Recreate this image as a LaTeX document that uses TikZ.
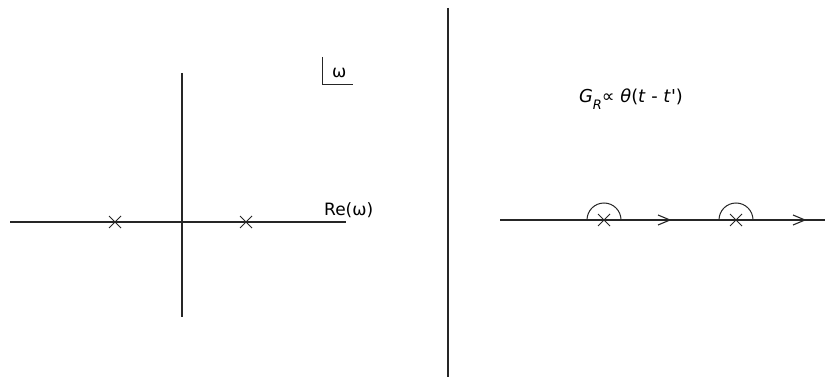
\documentclass[tikz,border=0pt]{standalone}
\usepackage{fontspec}
\setmainfont{DejaVu Sans}[Ligatures=TeXOff]
\begin{document}
\begin{tikzpicture}[x=1pt,y=-1pt,
  axis/.style={line width=1.2pt,draw=black!85},
  cross/.style={line width=0.9pt,draw=black!85},
  lbl/.style={font=\fontsize{17}{20}\selectfont,inner sep=0pt}]
\useasboundingbox (0,0) rectangle (825,377);
% left panel
\coordinate (hl) at (10,222); \coordinate (hr) at (346,222);
\coordinate (vt) at (182,73); \coordinate (vb) at (182,317);
\draw[axis] (hl) -- (hr);
\draw[axis] (vt) -- (vb);
\foreach \x in {115,246}{
  \draw[cross] (\x-6,216) -- (\x+6,228) (\x-6,228) -- (\x+6,216);}
\node[lbl,anchor=base west] (re) at (324,215) {Re(ω)};
\coordinate (ct) at (322,57); \coordinate (cc) at (322,85); \coordinate (cr) at (353,85);
\draw[line width=1pt,draw=black!85] (ct) -- (cc) -- (cr);
\node[lbl,anchor=base west] (om) at (332,78) {ω};
% divider
\coordinate (dt) at (448,8); \coordinate (db) at (448,377);
\draw[axis] (dt) -- (db);
% right panel
\node[lbl,font=\fontsize{17.8}{21}\selectfont,anchor=base] (gr) at (631,103) {\textit{G}\raisebox{-0.35em}{\fontsize{13}{15}\selectfont\textit{R}}∝ \textit{θ}(\textit{t} - \textit{t}')};
\coordinate (rl) at (500,220); \coordinate (rr) at (825,220);
\draw[axis] (rl) -- (rr);
\foreach \x in {604,736}{
  \draw[cross] (\x-6,214) -- (\x+6,226) (\x-6,226) -- (\x+6,214);
  \draw[line width=1pt,draw=black!85] (\x-17,220) arc[start angle=180,end angle=360,radius=17];}
\foreach \x in {670,805}{
  \draw[line width=1.1pt,draw=black!85] (\x-12,215) -- (\x,220) -- (\x-12,225);}
\end{tikzpicture}
\end{document}
